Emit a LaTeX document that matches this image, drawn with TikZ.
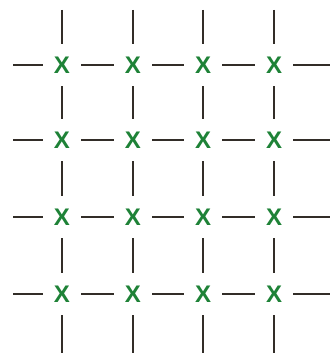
\documentclass[tikz,border=0pt]{standalone}
\usepackage{fontspec}
\setmainfont{Liberation Sans}
\definecolor{xgreen}{RGB}{30,130,55}
\definecolor{lineclr}{RGB}{50,45,40}
\begin{document}
\begin{tikzpicture}[x=1pt,y=-1pt,
  cell/.style={minimum width=38pt,minimum height=42pt,inner sep=0pt,text=xgreen,font=\fontsize{24}{24}\selectfont\bfseries},
  seg/.style={draw=lineclr,line width=1.7pt}]
\useasboundingbox[fill=white] (0,0) rectangle (333,355);
\foreach \c/\x in {1/62,2/133,3/203,4/274}{
  \foreach \r/\y in {1/65,2/140,3/217,4/294}{
    \node[cell] (n\r\c) at (\x,\y) {X};
  }
  \coordinate (t\c) at (\x,10);
  \coordinate (b\c) at (\x,353);
}
\foreach \r/\y in {1/65,2/140,3/217,4/294}{
  \coordinate (l\r) at (13,\y);
  \coordinate (r\r) at (330,\y);
}
\foreach \c in {1,2,3,4}{
  \draw[seg] (t\c) -- (n1\c);
  \draw[seg] (n1\c) -- (n2\c);
  \draw[seg] (n2\c) -- (n3\c);
  \draw[seg] (n3\c) -- (n4\c);
  \draw[seg] (n4\c) -- (b\c);
}
\foreach \r in {1,2,3,4}{
  \draw[seg] (l\r) -- (n\r1);
  \draw[seg] (n\r1) -- (n\r2);
  \draw[seg] (n\r2) -- (n\r3);
  \draw[seg] (n\r3) -- (n\r4);
  \draw[seg] (n\r4) -- (r\r);
}
\end{tikzpicture}
\end{document}
